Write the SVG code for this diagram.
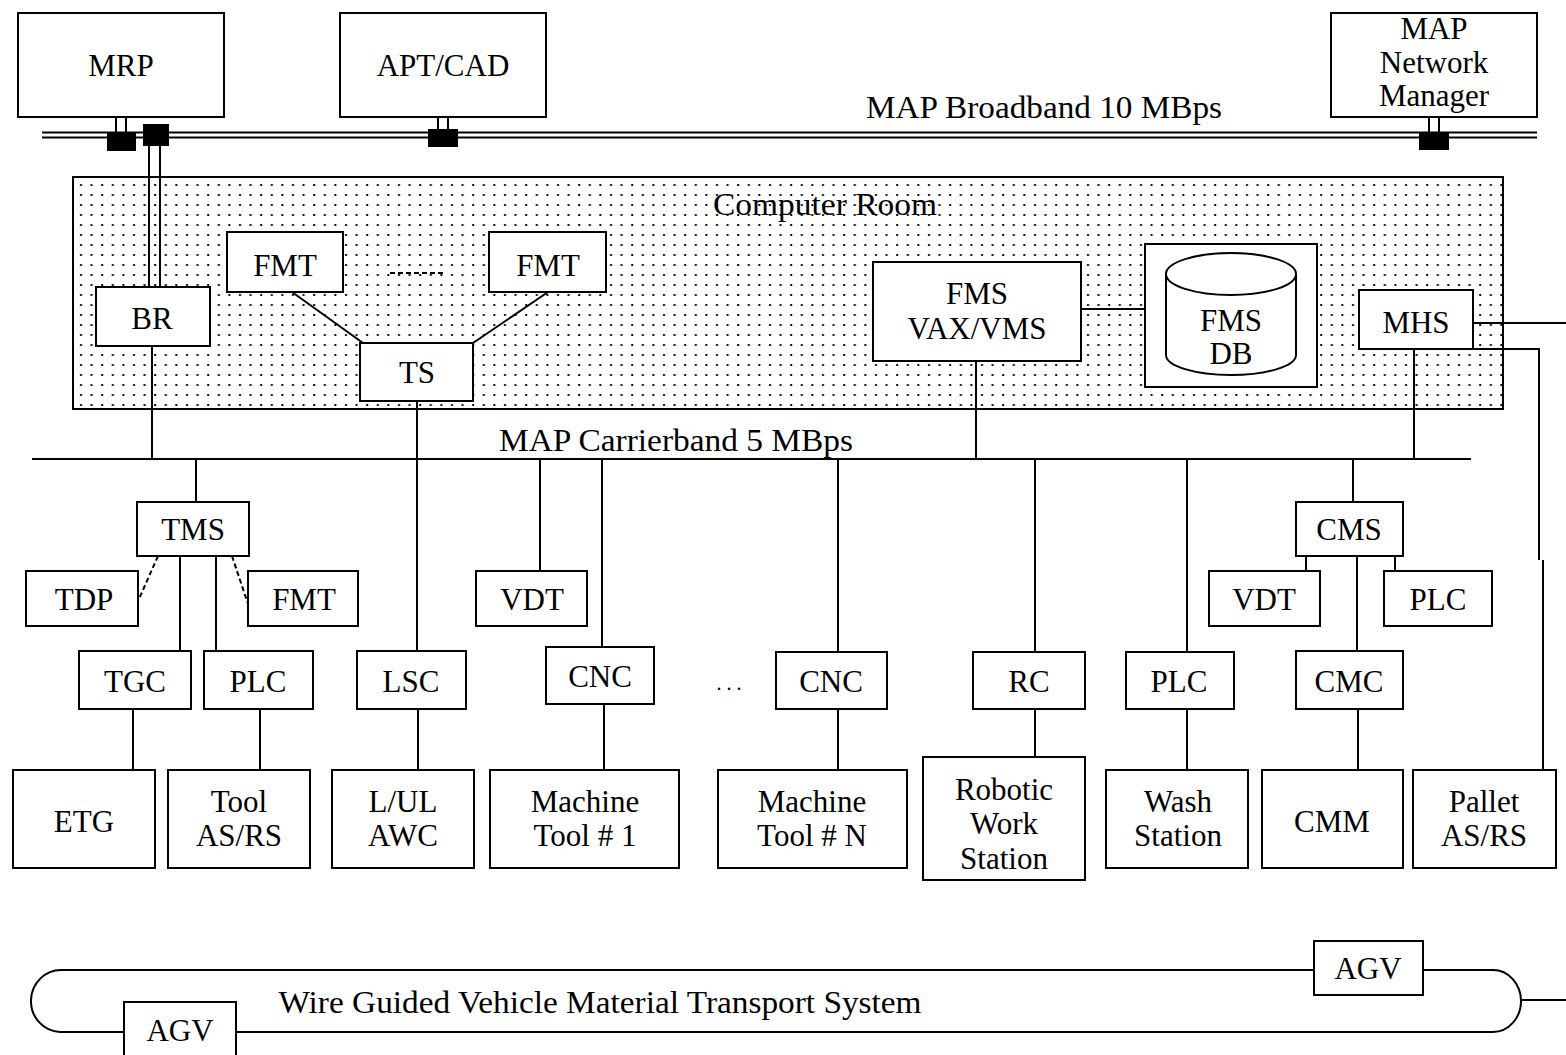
<svg xmlns="http://www.w3.org/2000/svg" width="1566" height="1055" viewBox="0 0 1566 1055">
  <style>
    .box { fill: #fff; stroke: #000; stroke-width: 2; }
    .ln { fill: none; stroke: #000; stroke-width: 2; }
    .dash { fill: none; stroke: #000; stroke-width: 2; stroke-dasharray: 5 3; }
    .tap { fill: #000; }
    text { font-family: "Liberation Serif", "Times New Roman", serif; font-size: 31px; fill: #000; text-anchor: middle; }
    .small { font-size: 20px; }
  </style>
  <defs>
    <pattern id="dots" patternUnits="userSpaceOnUse" x="76" y="180" width="10.6" height="10">
      <rect x="4" y="4" width="2" height="2" fill="#111"/>
    </pattern>
  </defs>
  <rect width="1566" height="1055" fill="#fff"/>

  <!-- Computer room enclosure -->
  <g id="computer-room">
    <rect x="73" y="177" width="1430" height="232" fill="#fff" stroke="#000" stroke-width="2"/>
    <rect x="74" y="178" width="1428" height="230" fill="url(#dots)"/>
    <text x="825" y="215" textLength="224" lengthAdjust="spacingAndGlyphs">Computer Room</text>
  </g>

  <!-- Connectors -->
  <g id="connectors">
    <!-- MAP broadband bus -->
    <line class="ln" x1="42" y1="132.5" x2="1537" y2="132.5"/>
    <line class="ln" x1="42" y1="137.5" x2="1537" y2="137.5"/>
    <!-- taps onto broadband -->
    <line class="ln" x1="116" y1="117" x2="116" y2="134"/>
    <line class="ln" x1="126" y1="117" x2="126" y2="134"/>
    <rect class="tap" x="107" y="132" width="29" height="19"/>
    <rect class="tap" x="143" y="124" width="26" height="22"/>
    <line class="ln" x1="149" y1="146" x2="149" y2="287"/>
    <line class="ln" x1="160" y1="146" x2="160" y2="287"/>
    <line class="ln" x1="438" y1="117" x2="438" y2="132"/>
    <line class="ln" x1="448" y1="117" x2="448" y2="132"/>
    <rect class="tap" x="428" y="129" width="30" height="18"/>
    <line class="ln" x1="1429" y1="117" x2="1429" y2="134"/>
    <line class="ln" x1="1439" y1="117" x2="1439" y2="134"/>
    <rect class="tap" x="1419" y="132" width="30" height="18"/>

    <!-- computer room internal links -->
    <line class="ln" x1="292" y1="292" x2="363" y2="343"/>
    <line class="ln" x1="548" y1="292" x2="473" y2="343"/>
    <line class="dash" x1="390" y1="273" x2="444" y2="273" stroke-dasharray="9 7"/>
    <line class="ln" x1="1081" y1="309" x2="1145" y2="309"/>
    <line class="ln" x1="1473" y1="323" x2="1566" y2="323"/>
    <polyline class="ln" points="1473,349 1539,349 1539,560"/>
    <line class="ln" x1="1543" y1="560" x2="1543" y2="770"/>

    <!-- MAP carrierband bus -->
    <line class="ln" x1="32" y1="459" x2="1471" y2="459"/>
    <line class="ln" x1="152" y1="346" x2="152" y2="459"/>
    <line class="ln" x1="417" y1="401" x2="417" y2="651"/>
    <line class="ln" x1="976" y1="361" x2="976" y2="459"/>
    <line class="ln" x1="1414" y1="349" x2="1414" y2="459"/>
    <line class="ln" x1="196" y1="459" x2="196" y2="502"/>
    <line class="ln" x1="540" y1="459" x2="540" y2="571"/>
    <line class="ln" x1="602" y1="459" x2="602" y2="647"/>
    <line class="ln" x1="838" y1="459" x2="838" y2="652"/>
    <line class="ln" x1="1035" y1="459" x2="1035" y2="652"/>
    <line class="ln" x1="1187" y1="459" x2="1187" y2="652"/>
    <line class="ln" x1="1353" y1="459" x2="1353" y2="502"/>

    <!-- TMS cell -->
    <line class="dash" x1="158" y1="556" x2="139" y2="599"/>
    <line class="dash" x1="232" y1="556" x2="248" y2="604"/>
    <line class="ln" x1="180" y1="556" x2="180" y2="651"/>
    <line class="ln" x1="216" y1="556" x2="216" y2="651"/>

    <!-- CMS cell -->
    <line class="ln" x1="1306" y1="556" x2="1306" y2="571"/>
    <line class="ln" x1="1395" y1="556" x2="1395" y2="571"/>
    <line class="ln" x1="1357" y1="556" x2="1357" y2="651"/>

    <!-- controllers to equipment -->
    <line class="ln" x1="133" y1="709" x2="133" y2="770"/>
    <line class="ln" x1="260" y1="709" x2="260" y2="770"/>
    <line class="ln" x1="418" y1="709" x2="418" y2="770"/>
    <line class="ln" x1="604" y1="704" x2="604" y2="770"/>
    <line class="ln" x1="838" y1="709" x2="838" y2="770"/>
    <line class="ln" x1="1035" y1="709" x2="1035" y2="757"/>
    <line class="ln" x1="1187" y1="709" x2="1187" y2="770"/>
    <line class="ln" x1="1358" y1="709" x2="1358" y2="770"/>

    <!-- wire guided vehicle loop -->
    <line class="ln" x1="62" y1="970" x2="1314" y2="970"/>
    <line class="ln" x1="1423" y1="970" x2="1493" y2="970"/>
    <path class="ln" d="M1493,970 A28,31 0 0 1 1493,1032"/>
    <line class="ln" x1="1520" y1="1000" x2="1566" y2="1000"/>
    <line class="ln" x1="60" y1="1032" x2="124" y2="1032"/>
    <line class="ln" x1="236" y1="1032" x2="1493" y2="1032"/>
    <path class="ln" d="M62,970 A30,31 0 0 0 60,1032"/>
  </g>

  <!-- Bus labels -->
  <text x="1044" y="118" textLength="356" lengthAdjust="spacingAndGlyphs">MAP Broadband 10 MBps</text>
  <text x="676" y="451" textLength="354" lengthAdjust="spacingAndGlyphs">MAP Carrierband 5 MBps</text>
  <text x="600" y="1013" textLength="643" lengthAdjust="spacingAndGlyphs">Wire Guided Vehicle Material Transport System</text>
  <text class="small" x="729" y="690">. . .</text>

  <!-- Host nodes -->
  <g id="mrp"><rect class="box" x="18" y="13" width="206" height="104"/><text x="121" y="76">MRP</text></g>
  <g id="apt-cad"><rect class="box" x="340" y="13" width="206" height="104"/><text x="443" y="76">APT/CAD</text></g>
  <g id="map-network-manager"><rect class="box" x="1331" y="13" width="206" height="104"/>
    <text x="1434" y="39">MAP</text><text x="1434" y="73">Network</text><text x="1434" y="106">Manager</text></g>

  <!-- Computer room nodes -->
  <g id="br"><rect class="box" x="96" y="287" width="114" height="59"/><text x="152" y="329">BR</text></g>
  <g id="fmt-1"><rect class="box" x="227" y="232" width="116" height="60"/><text x="285" y="276">FMT</text></g>
  <g id="fmt-2"><rect class="box" x="489" y="232" width="117" height="60"/><text x="548" y="276">FMT</text></g>
  <g id="ts"><rect class="box" x="360" y="343" width="113" height="58"/><text x="417" y="383">TS</text></g>
  <g id="fms-vax"><rect class="box" x="873" y="262" width="208" height="99"/>
    <text x="977" y="304">FMS</text><text x="977" y="339">VAX/VMS</text></g>
  <g id="fms-db">
    <rect class="box" x="1145" y="244" width="172" height="143"/>
    <path class="box" d="M1166,274 L1166,355 A65,20 0 0 0 1296,355 L1296,274"/>
    <ellipse class="box" cx="1231" cy="274" rx="65" ry="21"/>
    <text x="1231" y="331">FMS</text><text x="1231" y="364">DB</text>
  </g>
  <g id="mhs"><rect class="box" x="1359" y="290" width="114" height="59"/><text x="1416" y="333">MHS</text></g>

  <!-- Tool management cell -->
  <g id="tms"><rect class="box" x="137" y="502" width="112" height="54"/><text x="193" y="540">TMS</text></g>
  <g id="tdp"><rect class="box" x="26" y="571" width="112" height="55"/><text x="84" y="610">TDP</text></g>
  <g id="fmt-3"><rect class="box" x="248" y="571" width="110" height="55"/><text x="304" y="610">FMT</text></g>
  <g id="tgc"><rect class="box" x="79" y="651" width="112" height="58"/><text x="135" y="692">TGC</text></g>
  <g id="plc-1"><rect class="box" x="204" y="651" width="109" height="58"/><text x="258" y="692">PLC</text></g>
  <g id="etg"><rect class="box" x="13" y="770" width="142" height="98"/><text x="84" y="832">ETG</text></g>
  <g id="tool-asrs"><rect class="box" x="168" y="770" width="142" height="98"/>
    <text x="239" y="812">Tool</text><text x="239" y="846">AS/RS</text></g>

  <!-- Load / unload -->
  <g id="lsc"><rect class="box" x="357" y="651" width="109" height="58"/><text x="411" y="692">LSC</text></g>
  <g id="lul-awc"><rect class="box" x="332" y="770" width="142" height="98"/>
    <text x="403" y="812">L/UL</text><text x="403" y="846">AWC</text></g>

  <!-- Machining -->
  <g id="vdt-1"><rect class="box" x="476" y="571" width="111" height="55"/><text x="532" y="610">VDT</text></g>
  <g id="cnc-1"><rect class="box" x="546" y="647" width="108" height="57"/><text x="600" y="687">CNC</text></g>
  <g id="machine-tool-1"><rect class="box" x="490" y="770" width="189" height="98"/>
    <text x="585" y="812">Machine</text><text x="585" y="846">Tool # 1</text></g>
  <g id="cnc-n"><rect class="box" x="776" y="652" width="111" height="57"/><text x="831" y="692">CNC</text></g>
  <g id="machine-tool-n"><rect class="box" x="718" y="770" width="189" height="98"/>
    <text x="812" y="812">Machine</text><text x="812" y="846">Tool # N</text></g>

  <!-- Robotic work station -->
  <g id="rc"><rect class="box" x="973" y="652" width="112" height="57"/><text x="1029" y="692">RC</text></g>
  <g id="robotic-work-station"><rect class="box" x="923" y="757" width="162" height="123"/>
    <text x="1004" y="800">Robotic</text><text x="1004" y="834">Work</text><text x="1004" y="869">Station</text></g>

  <!-- Wash station -->
  <g id="plc-2"><rect class="box" x="1126" y="652" width="108" height="57"/><text x="1179" y="692">PLC</text></g>
  <g id="wash-station"><rect class="box" x="1106" y="770" width="142" height="98"/>
    <text x="1178" y="812">Wash</text><text x="1178" y="846">Station</text></g>

  <!-- Coordinate measuring cell -->
  <g id="cms"><rect class="box" x="1296" y="502" width="107" height="54"/><text x="1349" y="540">CMS</text></g>
  <g id="vdt-2"><rect class="box" x="1209" y="571" width="111" height="55"/><text x="1264" y="610">VDT</text></g>
  <g id="plc-3"><rect class="box" x="1384" y="571" width="108" height="55"/><text x="1438" y="610">PLC</text></g>
  <g id="cmc"><rect class="box" x="1296" y="651" width="107" height="58"/><text x="1349" y="692">CMC</text></g>
  <g id="cmm"><rect class="box" x="1262" y="770" width="141" height="98"/><text x="1332" y="832">CMM</text></g>

  <!-- Pallet storage -->
  <g id="pallet-asrs"><rect class="box" x="1413" y="770" width="143" height="98"/>
    <text x="1484" y="812">Pallet</text><text x="1484" y="846">AS/RS</text></g>

  <!-- Vehicles -->
  <g id="agv-1"><rect class="box" x="1314" y="941" width="109" height="54"/><text x="1368" y="979">AGV</text></g>
  <g id="agv-2"><rect class="box" x="124" y="1002" width="112" height="60"/><text x="180" y="1041">AGV</text></g>
</svg>
